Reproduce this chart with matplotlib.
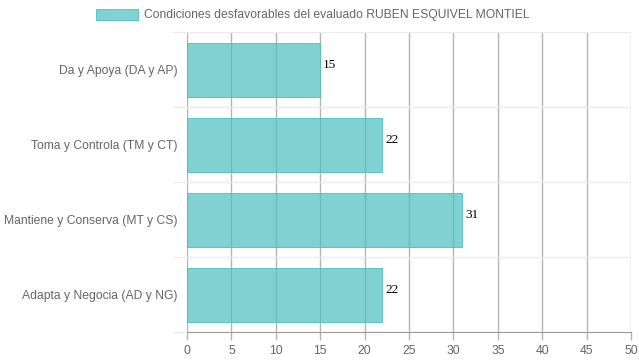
import numpy as np
import matplotlib.pyplot as plt
from matplotlib.patches import Patch

categories = ['Da y Apoya (DA y AP)', 'Toma y Controla (TM y CT)',
              'Mantiene y Conserva (MT y CS)', 'Adapta y Negocia (AD y NG)']
values = [15, 22, 31, 22]
legend_label = 'Condiciones desfavorables del evaluado RUBEN ESQUIVEL MONTIEL'
x_ticks = np.arange(0, 51, 5)

plt.rcParams['font.family'] = ['Liberation Sans', 'DejaVu Sans']

fig = plt.figure(figsize=(6.39, 3.6), dpi=100)
fig.patch.set_facecolor('white')
ax = fig.add_axes([187/639, 1-332/360, (631-187)/639, 300/360])

y = np.arange(len(categories))
bar_color = (75/255, 192/255, 192/255, 0.7)
ax.barh(y, values, height=0.72, color=bar_color, edgecolor=(75/255, 192/255, 192/255),
        linewidth=0.6, zorder=3)

# value labels sit a little above the bar centre, like the original
for yi, v in zip(y, values):
    ax.text(v + 0.3, yi - 0.06, str(v), va='center', ha='left', fontsize=9.5,
            family='Liberation Serif', color='black', zorder=4)

ax.set_xlim(0, 50)
ax.set_ylim(len(categories) - 0.5, -0.5)
ax.set_xticks(x_ticks)
ax.set_yticks(y)
ax.set_yticklabels(categories)
ax.set_yticks(np.arange(-0.5, len(categories), 1), minor=True)

ax.tick_params(axis='y', which='major', length=0, pad=6.5, labelsize=8.75, labelcolor='#666666')
ax.tick_params(axis='y', which='minor', length=10, color='#ebebeb', width=1)
ax.tick_params(axis='x', which='major', length=6, color='#b5b5b5', width=1,
               labelsize=8.75, labelcolor='#666666', pad=3.5)

ax.grid(axis='x', which='major', color='#b5b5b5', lw=1, zorder=1)
ax.grid(axis='y', which='minor', color='#ebebeb', lw=1, zorder=1)

for s in ['top', 'right', 'left']:
    ax.spines[s].set_visible(False)
ax.spines['bottom'].set_color('#9a9a9a')
ax.spines['bottom'].set_zorder(2)

handle = Patch(facecolor=bar_color, edgecolor=(75/255, 192/255, 192/255), lw=0.6)
leg = fig.legend([handle], [legend_label], loc='upper center', bbox_to_anchor=(0.49, 1.0),
                 frameon=False, fontsize=8.75, handlelength=3.4, handleheight=1.1,
                 handletextpad=0.55, borderaxespad=0.3)
for t in leg.get_texts():
    t.set_color('#666666')

fig.savefig('out.png', dpi=100)
